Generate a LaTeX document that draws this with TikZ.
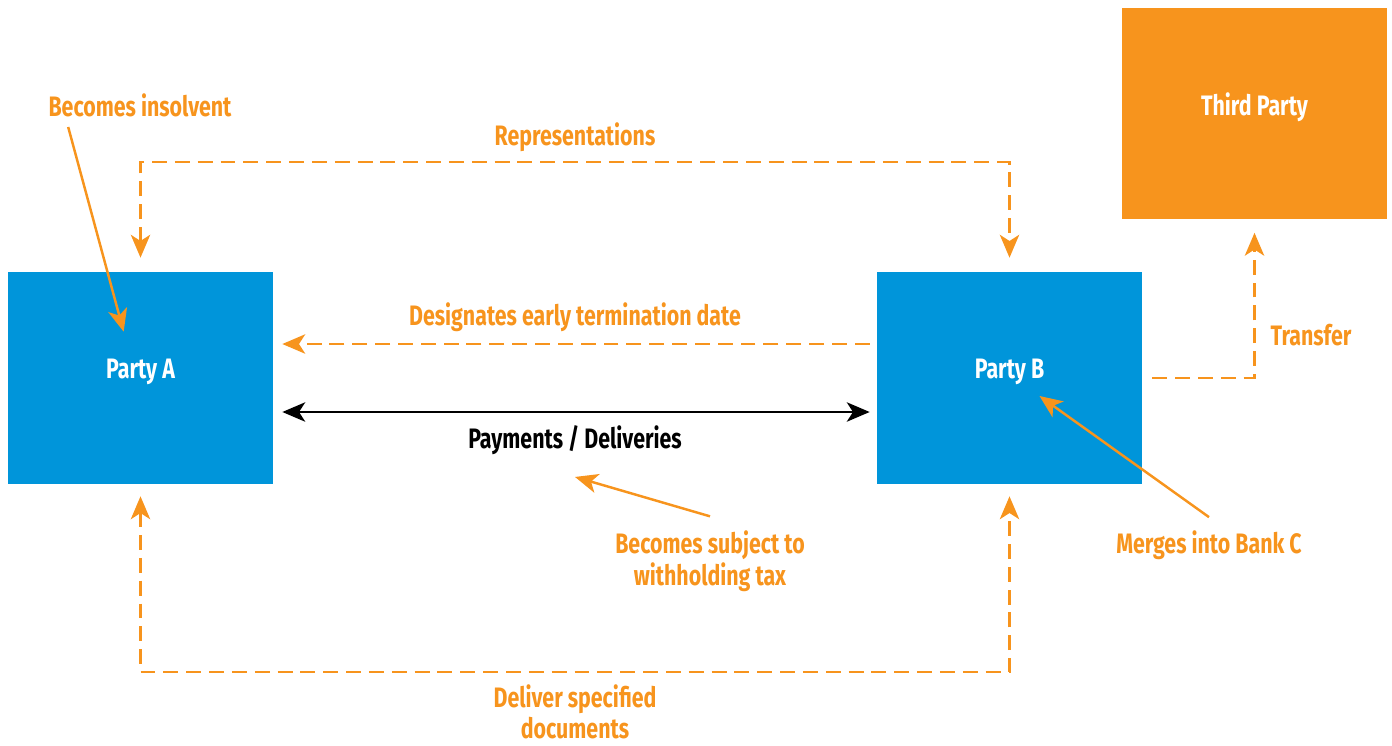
\documentclass[tikz,border=0pt]{standalone}
\usepackage{fontspec}
\setmainfont{Fira Sans}[FakeStretch=0.76]
\usepackage{xcolor}
\usepackage{tikz}
\usetikzlibrary{arrows.meta}
\definecolor{partyblue}{HTML}{0095DA}
\definecolor{callorange}{HTML}{F7941D}

\begin{document}
\begin{tikzpicture}[line cap=butt,line join=miter,>={Stealth[length=13pt,width=11pt,inset=3.5pt]},x=0.02cm,y=-0.02cm,
  party/.style={fill=partyblue,text=white,minimum width=5.3cm,minimum height=4.24cm,inner sep=0pt,text depth=11pt,font=\fontsize{16}{18}\selectfont\bfseries},
  third/.style={party,fill=callorange},
  lbl/.style={text=callorange,font=\fontsize{16}{18}\selectfont\bfseries,align=center,inner sep=0pt},
  dashline/.style={callorange,line width=1.4pt,dash pattern=on 8.5pt off 4.5pt},
  callout/.style={callorange,line width=1.4pt}]
\useasboundingbox (0,0) rectangle (1392,745);
% boxes
\node[party] (A) at (140.5,378) {Party A};
\node[party] (B) at (1009.5,378) {Party B};
\node[third] (T) at (1254.5,113.5) {Third Party};
% labels
\node[lbl] (ins) at (140,105) {Becomes insolvent};
\node[lbl] (rep) at (575,137) {Representations};
\node[lbl] (des) at (575,317) {Designates early termination date};
\node[lbl,text=black] (pay) at (575,440) {Payments / Deliveries};
\node[lbl] (tax) at (710,561) {Becomes subject to\\withholding tax};
\node[lbl] (mrg) at (1209,545) {Merges into Bank C};
\node[lbl] (trf) at (1311,335) {Transfer};
\node[lbl] (del) at (575,712) {Deliver specified\\documents};
\coordinate (reptop) at (575,162);
\coordinate (delbot) at (575,672);
% connectors
\draw[dashline,<->,shorten <=0.28cm,shorten >=0.28cm] (A.north) |- (reptop) -| (B.north);
\draw[dashline,->,shorten <=0.14cm,shorten >=0.18cm] ([yshift=0.68cm]B.west) -- ([yshift=0.68cm]A.east);
\draw[black,line width=1.4pt,<->,shorten <=0.18cm,shorten >=0.14cm] ([yshift=-0.68cm]A.east) -- ([yshift=-0.68cm]B.west);
\draw[dashline,<->,shorten <=0.24cm,shorten >=0.24cm] (A.south) |- (delbot) -| (B.south);
\draw[dashline,->,shorten <=0.2cm,shorten >=0.26cm] (B.east) -| (T.south);
% callouts
\draw[callout,->] ([xshift=0.4cm,yshift=-0.2cm]ins.south west) -- ([xshift=2.32cm,yshift=-1.2cm]A.north west);
\draw[callout,->] ([yshift=0.28cm]tax.north) -- ([yshift=-0.44cm]pay.south);
\draw[callout,->] ([yshift=0.26cm]mrg.north) -- ([xshift=0.6cm,yshift=-0.36cm]B.center);
\end{tikzpicture}
\end{document}
